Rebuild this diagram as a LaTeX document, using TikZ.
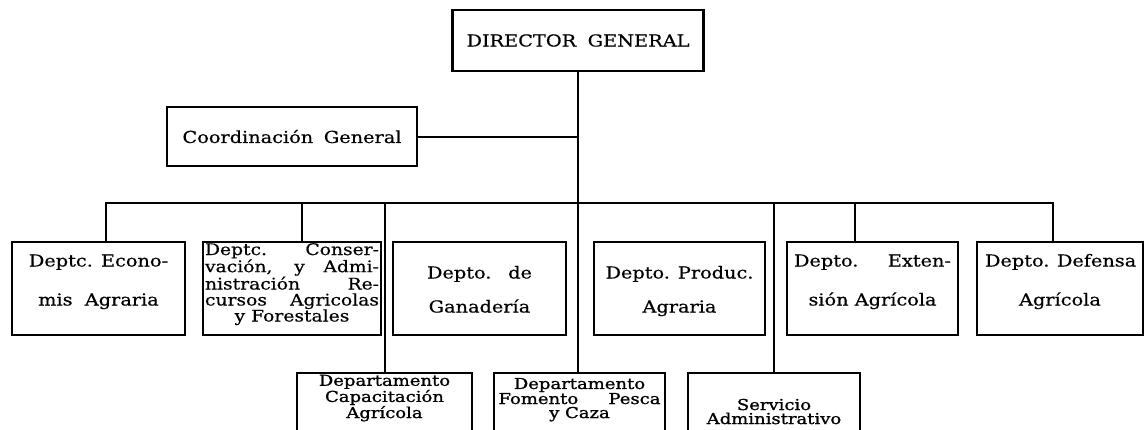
\documentclass[tikz,border=0pt]{standalone}
\usepackage{fontspec}
\setmainfont{DejaVu Serif}[FakeStretch=1.17,FakeBold=0.5]
\newfontfamily\subfont{DejaVu Serif}[FakeStretch=1.2,FakeBold=1.2]
\newcommand{\jline}[2]{\makebox[#1pt][s]{#2}}

\begin{document}
\begin{tikzpicture}[x=1pt, y=-1pt,
    box/.style={draw, line width=2.6pt, inner sep=0pt, align=center},
    rowbox/.style={box, minimum height=93pt, text depth=0pt},
    subbox/.style={box, minimum height=80pt, text depth=0pt,
      font=\subfont\fontsize{15}{14}\selectfont},
    link/.style={line width=2pt}]
    \useasboundingbox (0,0) rectangle (1145,429);
    \clip (0,0) rectangle (1145,429);
    % top level
    \node (dir) [box, minimum width=251pt, minimum height=61pt,
    font=\fontsize{16.5}{20}\selectfont] at (578,40.5)
    {\jline{223}{DIRECTOR GENERAL}};
    \node (coord) [box, minimum width=250pt, minimum height=59pt,
    font=\fontsize{16.5}{20}\selectfont] at (292,136.5)
    {\jline{219}{Coordinación General}};
    % departments
    \node (econ) [rowbox, minimum width=173pt, text height=34pt,
    font=\fontsize{16.5}{39}\selectfont] at (98.5,288.5)
    {Deptc. Econo-\\mis\ \ Agraria};
    \node (cons) [rowbox, minimum width=178pt, text height=66pt,
    font=\fontsize{16}{16}\selectfont] at (292,288.5)
    {\jline{174}{Deptc. Conser-}\\\jline{174}{vación, y Admi-}\\
    \jline{174}{nistración Re-}\\\jline{174}{cursos Agricolas}\\y Forestales};
    \node (gan) [rowbox, minimum width=173pt, text height=48pt,
    font=\fontsize{16.5}{34}\selectfont] at (479.5,288.5)
    {\jline{105}{Depto. de}\\Ganadería};
    \node (prod) [rowbox, minimum width=171pt, text height=48pt,
    font=\fontsize{16.5}{34}\selectfont] at (679.5,288.5)
    {\jline{148}{Depto. Produc.}\\Agraria};
    \node (ext) [rowbox, minimum width=171pt, text height=34pt,
    font=\fontsize{16.5}{39}\selectfont] at (872.5,288.5)
    {\jline{157}{Depto. Exten-}\\sión Agrícola};
    \node (def) [rowbox, minimum width=166pt, text height=34pt,
    font=\fontsize{16.5}{39}\selectfont] at (1060,288.5)
    {\jline{150}{Depto. Defensa}\\Agrícola};
    % lower units
    \node (cap) [subbox, minimum width=175pt, text height=10pt] at (384.5,413)
    {Departamento\\Capacitación\\Agrícola};
    \node (fom) [subbox, minimum width=171pt, text height=10pt] at (579.5,413)
    {Departamento\\\jline{162}{Fomento Pesca}\\y Caza};
    \node (ser) [subbox, minimum width=172pt, text height=22pt] at (774,413)
    {Servicio\\Administrativo};
    % bar points
    \coordinate (barL) at (106,203);
    \coordinate (barR) at (1053,203);
    \coordinate (dropC) at (302,203);
    \coordinate (dropE) at (855,203);
    % connectors
    \draw [link] (dir.south) -- (dir.south |- fom.north);
    \draw [link] (coord.east) -- (coord.east -| dir.south);
    \draw [link] (econ.north -| barL) -- (barL) -- (barR) -- (barR |- def.north);
    \draw [link] (dropC) -- (dropC |- cons.north);
    \draw [link] (dropE) -- (dropE |- ext.north);
    \draw [link] (cap.north |- barL) -- (cap.north);
    \draw [link] (ser.north |- barL) -- (ser.north);
\end{tikzpicture}
\end{document}
